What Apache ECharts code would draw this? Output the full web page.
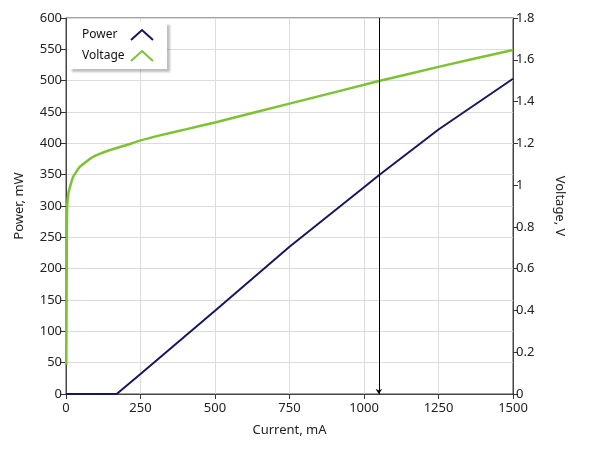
<!doctype html>
<html>
    <head>
        <meta charset="utf-8">
        <title>Power / Voltage vs Current</title>
        <style>
            html, body { margin: 0; padding: 0; background: #fff; }
            #main { width: 589px; height: 456px; }
        </style>
    </head>
    <body>
        <div id="main"></div>
        <script src="https://cdn.jsdelivr.net/npm/echarts@6/dist/echarts.min.js"></script>
        <script>
            // current (mA) / power (mW)
            var powerCurrent = [0, 170, 250, 500, 750, 1000, 1050, 1250, 1500];
            var powerValues = [0, 0, 32, 133, 235, 330, 349, 422, 503];

            // current (mA) / voltage (V)
            var voltCurrent = [1, 2, 3, 4, 8, 13, 24, 47, 92, 148, 204, 248, 315, 405, 500, 750, 1050, 1250, 1500];
            var voltValues = [0.14, 0.5, 0.8, 0.9, 0.96, 0.99, 1.04, 1.088, 1.136, 1.168, 1.192, 1.213, 1.238, 1.268, 1.3, 1.39, 1.498, 1.566, 1.647];

            var cursorCurrent = 1050;

            function zip(xs, ys) {
                return xs.map(function (x, i) {
                    return [x, ys[i]];
                });
            }

            var font = 'Noto Sans';
            var chevron = 'path://M0,10 L11,0 L22,10';
            var chart = echarts.init(document.getElementById('main'));

            chart.setOption({
                animation: false,
                textStyle: { fontFamily: font },
                grid: {
                    left: 66,
                    right: 76,
                    top: 18,
                    bottom: 62,
                    show: true,
                    borderColor: '#444',
                    borderWidth: 1
                },
                legend: {
                    left: 69,
                    top: 22,
                    orient: 'vertical',
                    align: 'right',
                    itemGap: 9,
                    itemWidth: 22,
                    itemHeight: 10,
                    padding: [7, 13, 7, 13],
                    backgroundColor: '#fff',
                    shadowColor: 'rgba(0,0,0,0.25)',
                    shadowOffsetX: 3,
                    shadowOffsetY: 3,
                    shadowBlur: 2,
                    formatter: '{t|{name}}',
                    textStyle: {
                        fontSize: 12,
                        color: '#111',
                        fontFamily: font,
                        rich: {
                            t: { width: 44, align: 'left', fontSize: 12, fontFamily: font, color: '#111' }
                        }
                    },
                    data: [
                        {
                            name: 'Power',
                            icon: chevron,
                            itemStyle: { color: 'transparent', borderColor: '#17175e', borderWidth: 2 }
                        },
                        {
                            name: 'Voltage',
                            icon: chevron,
                            itemStyle: { color: 'transparent', borderColor: '#7cc233', borderWidth: 2 }
                        }
                    ]
                },
                xAxis: {
                    type: 'value',
                    min: 0,
                    max: 1500,
                    interval: 250,
                    name: 'Current, mA',
                    nameLocation: 'middle',
                    nameGap: 30,
                    nameTextStyle: { fontSize: 13, color: '#222' },
                    axisLine: { lineStyle: { color: '#444' } },
                    axisTick: { show: true, length: 5, lineStyle: { color: '#333' } },
                    axisLabel: {
                        fontSize: 13,
                        color: '#222',
                        margin: 8,
                        formatter: function (v) { return String(v); }
                    },
                    splitLine: { lineStyle: { color: '#dcdcdc' } }
                },
                yAxis: [
                    {
                        type: 'value',
                        min: 0,
                        max: 600,
                        interval: 50,
                        name: 'Power, mW',
                        nameLocation: 'middle',
                        nameGap: 40,
                        nameTextStyle: { fontSize: 13, color: '#222' },
                        axisLine: { show: true, lineStyle: { color: '#444' } },
                        axisTick: { show: true, length: 5, lineStyle: { color: '#333' } },
                        axisLabel: { fontSize: 13, color: '#222', margin: 4 },
                        splitLine: { lineStyle: { color: '#dcdcdc' } }
                    },
                    {
                        type: 'value',
                        min: 0,
                        max: 1.8,
                        interval: 0.2,
                        position: 'right',
                        name: 'Voltage, V',
                        nameLocation: 'middle',
                        nameRotate: -90,
                        nameGap: 40,
                        nameTextStyle: { fontSize: 13, color: '#222' },
                        axisLine: { show: true, lineStyle: { color: '#444' } },
                        axisTick: { show: true, length: 5, lineStyle: { color: '#333' } },
                        axisLabel: { fontSize: 13, color: '#222', margin: 3 },
                        splitLine: { show: false }
                    }
                ],
                series: [
                    {
                        name: 'Power',
                        type: 'line',
                        yAxisIndex: 0,
                        showSymbol: false,
                        lineStyle: { color: '#17175e', width: 2 },
                        itemStyle: { color: '#17175e' },
                        data: zip(powerCurrent, powerValues),
                        markLine: {
                            silent: true,
                            symbol: ['arrow', 'none'],
                            symbolSize: 5,
                            label: { show: false },
                            lineStyle: { color: '#000', width: 1, type: 'solid' },
                            data: [{ xAxis: cursorCurrent }]
                        }
                    },
                    {
                        name: 'Voltage',
                        type: 'line',
                        yAxisIndex: 1,
                        showSymbol: false,
                        smooth: 0.15,
                        lineStyle: { color: '#7cc233', width: 2.5 },
                        itemStyle: { color: '#7cc233' },
                        data: zip(voltCurrent, voltValues)
                    }
                ]
            });

            window.addEventListener('resize', function () {
                chart.resize();
            });
        </script>
    </body>
</html>
